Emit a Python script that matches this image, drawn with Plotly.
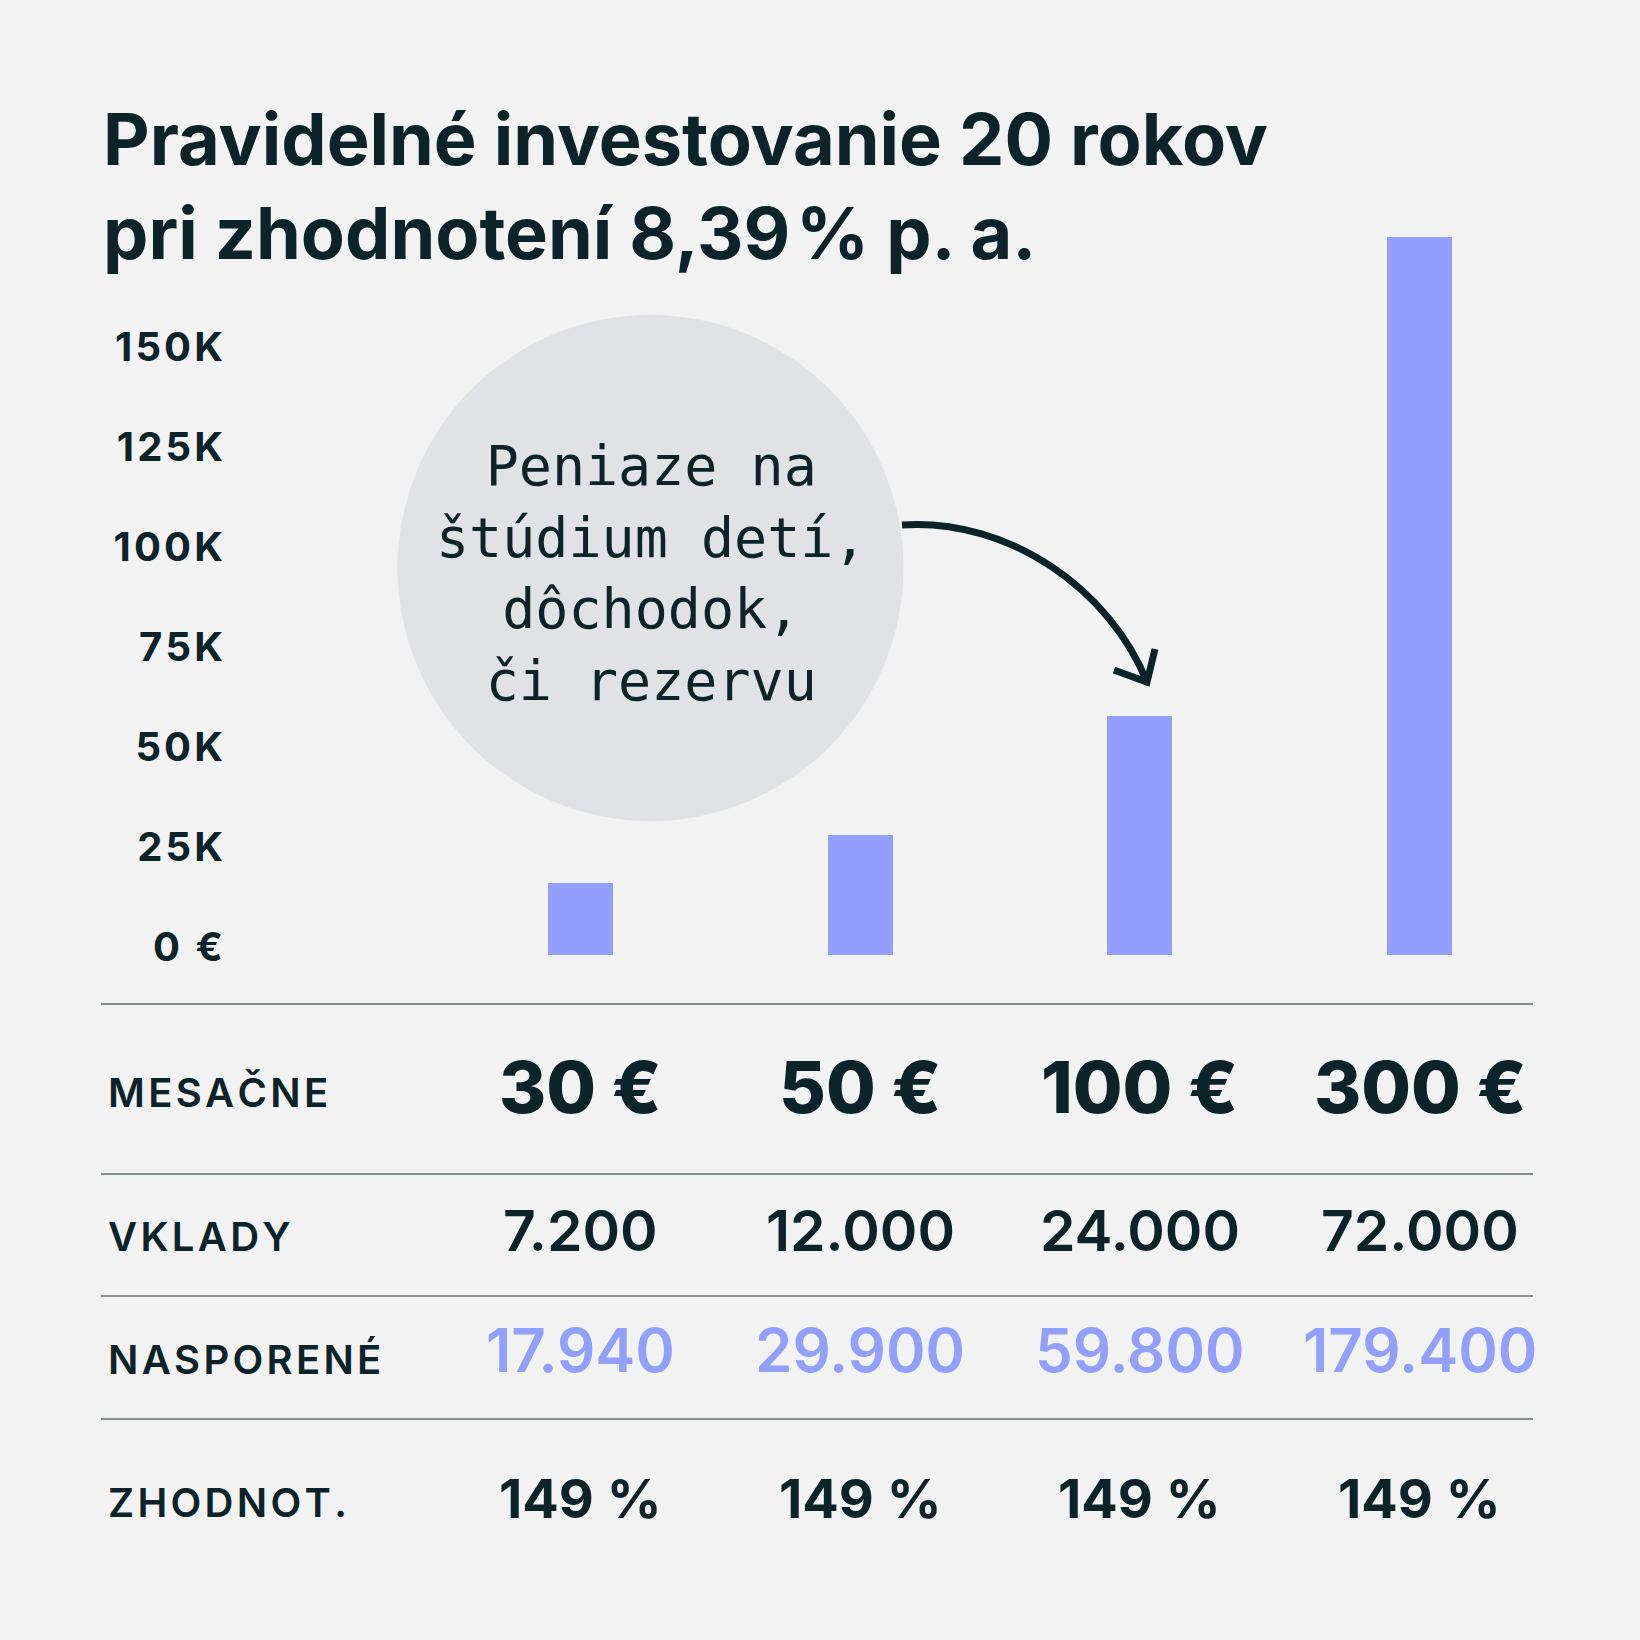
"""Pravidelné investovanie – bar chart with summary table (Plotly)."""

import plotly.graph_objects as go

# Data
monthly = [30, 50, 100, 300]                     # MESAČNE (€)
deposits = [7200, 12000, 24000, 72000]           # VKLADY
saved = [17940, 29900, 59800, 179400]            # NASPORENÉ
growth_pct = [149, 149, 149, 149]                # ZHODNOT.
y_ticks = [0, 25000, 50000, 75000, 100000, 125000, 150000]
y_tick_labels = ["0 €", "25K", "50K", "75K", "100K", "125K", "150K"]
row_labels = ["MESAČNE", "VKLADY", "NASPORENÉ", "ZHODNOT."]
bubble_lines = ["Peniaze na", "štúdium detí,", "dôchodok,", "či rezervu"]
title_lines = ["Pravidelné investovanie 20 rokov",
               "pri zhodnotení 8,39\u200a% p. a."]

DARK = "#0b2329"
PURPLE = "#929ffc"
BG = "#f2f2f2"
RULE = "#84908f"
SANS = "Inter, Lato, sans-serif"
MONO = "DejaVu Sans Mono, monospace"

W, H = 1640, 1640
L, R, T, B = 230, 1533, 230, 955          # plot area in pixels


def px_x(px):
    return (px - L) / (R - L)


def px_y(py):
    return (B - py) / (B - T)


def fmt(v):
    return f"{v:,}".replace(",", ".")


def spaced(s):
    # a little letter spacing for the caps labels
    return "\u200a".join(s)


categories = [f"{m} €" for m in monthly]
step = 279.7                                # px between category centers
x0 = -(580.5 - L) / step
x1 = x0 + (R - L) / step

fig = go.Figure()

fig.add_trace(
    go.Bar(
        x=categories,
        y=saved,
        width=65 / step,
        marker=dict(color=PURPLE, line=dict(width=0)),
        hoverinfo="skip",
    )
)

# Bubble behind the chart
cx, cy, rad = 650.5, 568, 253
shapes = [
    dict(
        type="circle", xref="paper", yref="paper", layer="below",
        x0=px_x(cx - rad), x1=px_x(cx + rad),
        y0=px_y(cy + rad), y1=px_y(cy - rad),
        fillcolor="#e1e2e6", line=dict(width=0),
    )
]

# Curved arrow from bubble to the 100 € bar
p0, p1, p2, p3 = (902, 525), (1010, 518), (1110, 590), (1147, 682)
curve = "M {} {} C {} {}, {} {}, {} {}".format(
    px_x(p0[0]), px_y(p0[1]), px_x(p1[0]), px_y(p1[1]),
    px_x(p2[0]), px_y(p2[1]), px_x(p3[0]), px_y(p3[1]),
)
head = "M {} {} L {} {} L {} {}".format(
    px_x(1114), px_y(670), px_x(1147), px_y(682), px_x(1155), px_y(649)
)
for p in (curve, head):
    shapes.append(
        dict(type="path", xref="paper", yref="paper", path=p,
             line=dict(color=DARK, width=7))
    )

# Table rules
for ry in [1004, 1174, 1296, 1419]:
    shapes.append(
        dict(type="line", xref="paper", yref="paper",
             x0=px_x(101), x1=px_x(1533), y0=px_y(ry), y1=px_y(ry),
             line=dict(color=RULE, width=2))
    )

annotations = [
    dict(
        text="<br>".join(title_lines), xref="paper", yref="paper",
        x=px_x(101), y=px_y(185), xanchor="left", yanchor="middle",
        align="left", showarrow=False,
        font=dict(family=SANS, size=72, color=DARK, weight=700),
    ),
    dict(
        text="<br>".join(bubble_lines), xref="paper", yref="paper",
        x=px_x(cx), y=px_y(573), xanchor="center", yanchor="middle",
        align="center", showarrow=False,
        font=dict(family=MONO, size=55, color=DARK),
    ),
]

# Row labels
for label, ry in zip(row_labels, [1092, 1236, 1359, 1502]):
    annotations.append(
        dict(text=spaced(label), xref="paper", yref="paper",
             x=px_x(106), y=px_y(ry), xanchor="left", yanchor="middle",
             showarrow=False,
             font=dict(family=SANS, size=40, color=DARK, weight=600))
    )

# Table values
rows = [
    (categories, 1086, 72, DARK, 800),
    ([fmt(v) for v in deposits], 1230, 57, DARK, 600),
    ([fmt(v) for v in saved], 1350, 60, PURPLE, 600),
    ([f"{v} %" for v in growth_pct], 1498, 54, DARK, 700),
]
for texts, ry, size, color, weight in rows:
    for cat, t in zip(categories, texts):
        annotations.append(
            dict(text=t, x=cat, xref="x", yref="paper", y=px_y(ry),
                 xanchor="center", yanchor="middle", showarrow=False,
                 font=dict(family=SANS, size=size, color=color, weight=weight))
        )

fig.update_layout(
    width=W,
    height=H,
    autosize=False,
    margin=dict(l=L, r=W - R, t=T, b=H - B, pad=0),
    paper_bgcolor=BG,
    plot_bgcolor=BG,
    showlegend=False,
    bargap=0,
    xaxis=dict(
        range=[x0, x1], showticklabels=False, showgrid=False,
        zeroline=False, showline=False, ticks="", fixedrange=True,
    ),
    yaxis=dict(
        range=[0, (B - T) / 100 * 25000],
        tickvals=y_ticks,
        ticktext=[spaced(t) for t in y_tick_labels],
        tickfont=dict(family=SANS, size=40, color=DARK, weight=700),
        showgrid=False, zeroline=False, showline=False, ticks="",
        ticklabelshift=-8, ticklabelstandoff=6, fixedrange=True,
    ),
    shapes=shapes,
    annotations=annotations,
)

fig.write_html(
    "out.html",
    config={"displayModeBar": False},
    post_script="document.body.style.margin = '0';",
)
